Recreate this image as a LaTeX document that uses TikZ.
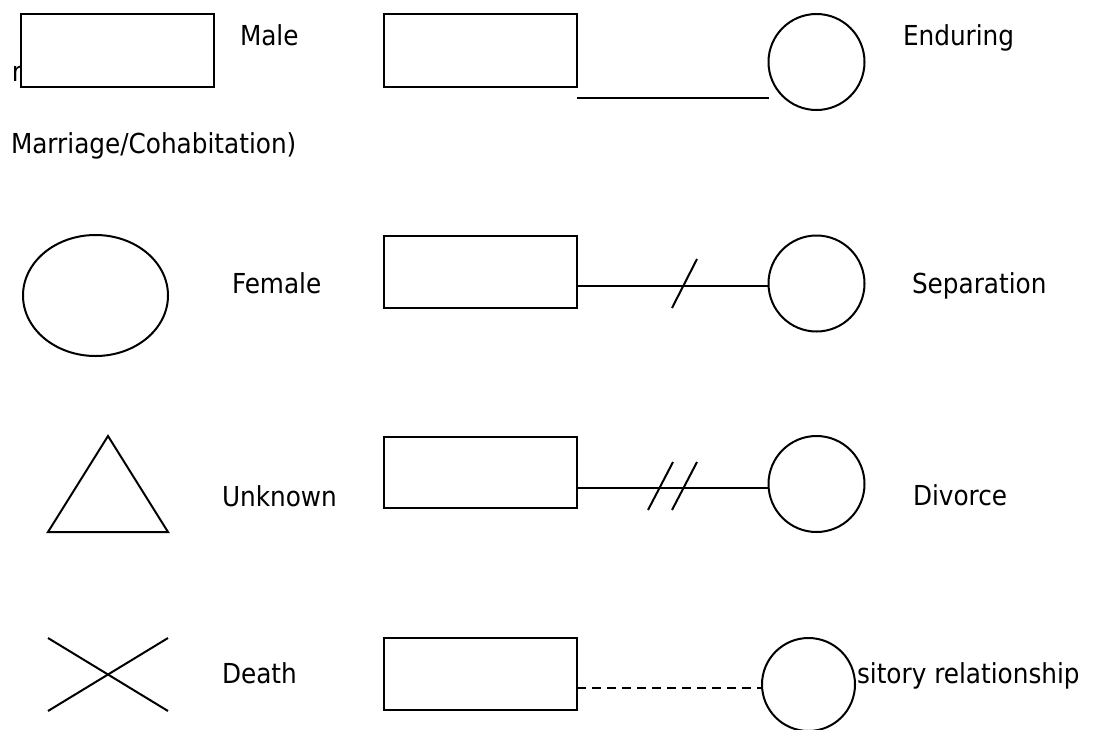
\documentclass[tikz,border=0pt]{standalone}
\usepackage{fontspec}
\setmainfont{DejaVu Sans Condensed}
\usetikzlibrary{shapes.geometric}
\begin{document}
\begin{tikzpicture}[x=1pt,y=-1pt,
  every node/.style={inner sep=0pt,outer sep=0pt},
  lbl/.style={anchor=base west,font=\fontsize{27.5}{33}\selectfont},
  person/.style={draw,line width=2.2pt,fill=white,minimum width=193pt,minimum height=72pt},
  partner/.style={draw,circle,line width=2pt,fill=white,minimum size=96pt},
  rel/.style={line width=2pt},
  sym/.style={line width=2pt}]
\useasboundingbox (0,0) rectangle (1100,729);
% row 1
\node[lbl] (tr) at (12,81) {r};
\node[person,minimum height=73pt] (male) at (117.5,50.5) {};
\node[lbl] (tmale) at (240,45) {Male};
\node[person,minimum height=73pt] (r1) at (480.5,50.5) {};
\node[partner] (c1) at (816.5,62) {};
\coordinate (a1) at (577,98);
\coordinate (b1) at (769,98);
\draw[rel] (a1) -- (b1);
\node[lbl] (tend) at (903,45) {Enduring};
\node[lbl] (tmar) at (11,153) {Marriage/Cohabitation)};
% row 2
\node[draw,ellipse,line width=2pt,minimum width=145pt,minimum height=121pt] (fem) at (95.5,295.5) {};
\node[lbl] (tfem) at (232,293) {Female};
\node[person] (r2) at (480.5,272) {};
\node[partner] (c2) at (816.5,283.5) {};
\coordinate (a2) at (r2.east |- 0,286);
\draw[rel] (a2) -- (c2.west |- a2);
\coordinate (s2a) at (672,308);
\coordinate (s2b) at (697,259);
\draw[sym] (s2a) -- (s2b);
\node[lbl] (tsep) at (912,293) {Separation};
% row 3
\coordinate (t1) at (108,436);
\coordinate (t2) at (168,532);
\coordinate (t3) at (48,532);
\draw[sym,line join=miter] (t1) -- (t2) -- (t3) -- cycle;
\node[lbl] (tunk) at (222,506) {Unknown};
\node[person,minimum height=71pt] (r3) at (480.5,472.5) {};
\node[partner] (c3) at (816.5,484) {};
\coordinate (a3) at (r3.east |- 0,487.5);
\draw[rel] (a3) -- (c3.west |- a3);
\coordinate (s3a) at (648,510);
\coordinate (s3b) at (673,462);
\coordinate (s3c) at (672,510);
\coordinate (s3d) at (697,462);
\draw[sym] (s3a) -- (s3b);
\draw[sym] (s3c) -- (s3d);
\node[lbl] (tdiv) at (913,505) {Divorce};
% row 4
\coordinate (x1) at (48,638);
\coordinate (x2) at (168,711);
\coordinate (x3) at (48,711);
\coordinate (x4) at (168,638);
\draw[sym] (x1) -- (x2);
\draw[sym] (x3) -- (x4);
\node[lbl] (tdeath) at (222,683) {Death};
\node[person] (r4) at (480.5,674) {};
\node[lbl] (ttra) at (857,683) {sitory relationship};
\node[partner,minimum size=93pt] (c4) at (808.5,684.5) {};
\coordinate (a4) at (r4.east |- 0,688);
\draw[rel,dash pattern=on 9pt off 6pt] (a4) -- (c4.west |- a4);
\end{tikzpicture}
\end{document}
